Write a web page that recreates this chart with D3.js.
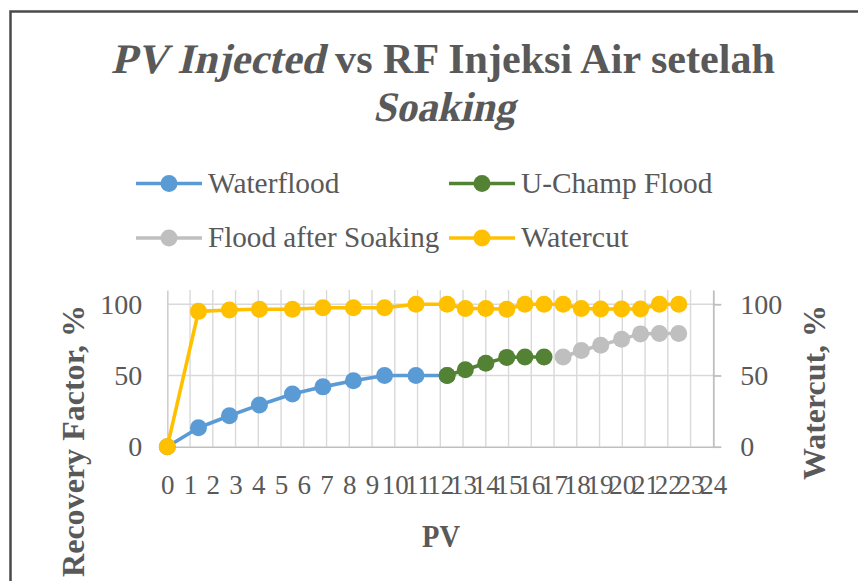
<!DOCTYPE html>
<html><head><meta charset="utf-8">
<script src="https://cdn.jsdelivr.net/npm/d3@7/dist/d3.min.js"></script>
<style>
html,body{margin:0;padding:0;background:#fff;}
svg{display:block;}
text{font-family:"Liberation Serif","Times New Roman",serif;fill:#595959;}
</style></head><body>
<svg id="chart" width="858" height="581"></svg>
<script>
// ---- data ----
const pvInjected = [0, 1.37, 2.73, 4.05, 5.5, 6.84, 8.18, 9.55, 10.93, 12.3, 13.1, 14.0, 14.92, 15.72, 16.56, 17.4, 18.2, 19.05, 19.97, 20.8, 21.63, 22.48];
const waterflood = [0, 13.3, 21.7, 29.3, 37, 42, 46.3, 50, 50, 50];          // PV index 0-9
const uChampFlood = [50, 54, 58.6, 62.7, 63, 63];                           // PV index 9-14
const floodAfterSoaking = [63, 67.5, 71.2, 75.5, 79.2, 79.5, 79.5];         // PV index 15-21
const watercut = [0, 95, 96, 96.5, 96.5, 97.5, 97.5, 97.5, 100, 100, 97, 97, 96.5, 100, 100, 100, 97, 96.7, 96.7, 96.7, 100, 100];
const xTickValues = d3.range(0, 25);
const yTickValues = [0, 50, 100];
const seriesNames = ["Waterflood", "U-Champ Flood", "Flood after Soaking", "Watercut"];
const seriesColors = ["#5B9BD5", "#548235", "#BFBFBF", "#FFC000"];

const series = [
  {name: seriesNames[0], color: seriesColors[0], xs: pvInjected.slice(0, 10), ys: waterflood},
  {name: seriesNames[1], color: seriesColors[1], xs: pvInjected.slice(9, 15), ys: uChampFlood},
  {name: seriesNames[2], color: seriesColors[2], xs: pvInjected.slice(15, 22), ys: floodAfterSoaking},
  {name: seriesNames[3], color: seriesColors[3], xs: pvInjected, ys: watercut}
];

const svg = d3.select("#chart");

function fit(sel, target) {
  const w = sel.node().getBBox().width;
  let s = target / w;
  if (!isFinite(s)) s = 1;
  return Math.max(0.75, Math.min(1.25, s));
}

// border
svg.append("path").attr("d", "M10.5,581 V11.5 H858").attr("fill", "none")
  .attr("stroke", "#4a4a4a").attr("stroke-width", 2.5);

// scales
const x = d3.scaleLinear().domain([0, 24]).range([167.3, 713.3]);
const yL = d3.scaleLinear().domain([0, 110]).range([446.7, 290]);
const yR = d3.scaleLinear().domain([0, 110]).range([446.7, 290]);

// gridlines
const grid = svg.append("g");
grid.selectAll("line.v").data(xTickValues.slice(1, 24)).join("line")
  .attr("x1", d => x(d)).attr("x2", d => x(d)).attr("y1", yL(110)).attr("y2", yL(0))
  .attr("stroke", "#D9D9D9").attr("stroke-width", 1.4);
grid.selectAll("line.h").data(yTickValues.slice(1)).join("line")
  .attr("x1", x(0)).attr("x2", x(24)).attr("y1", d => yL(d)).attr("y2", d => yL(d))
  .attr("stroke", "#D9D9D9").attr("stroke-width", 1.4);

// axes
const xAxis = svg.append("g").attr("transform", `translate(0,${yL(0)})`)
  .call(d3.axisBottom(x).tickValues(xTickValues).tickSize(0).tickPadding(28).tickFormat(d3.format("d")));
xAxis.select(".domain").attr("stroke", "#BFBFBF").attr("stroke-width", 1.6);
xAxis.selectAll("text").attr("font-size", 27).attr("fill", "#595959")
  .attr("font-family", "Liberation Serif");

const yAxisL = svg.append("g").attr("transform", `translate(${x(0)},0)`)
  .call(d3.axisLeft(yL).tickValues(yTickValues).tickSize(0).tickPadding(25).tickSizeOuter(0));
yAxisL.select(".domain").attr("stroke", "#CFCFCF").attr("stroke-width", 1.6);
yAxisL.selectAll("text").attr("font-size", 28).attr("fill", "#595959")
  .attr("font-family", "Liberation Serif");

const yAxisR = svg.append("g").attr("transform", `translate(${x(24)},0)`)
  .call(d3.axisRight(yR).tickValues(yTickValues).tickSize(8).tickPadding(19).tickSizeOuter(0));
yAxisR.select(".domain").attr("stroke", "#BFBFBF").attr("stroke-width", 1.8);
yAxisR.selectAll(".tick line").attr("stroke", "#BFBFBF").attr("stroke-width", 1.8);
yAxisR.selectAll("text").attr("font-size", 28).attr("fill", "#595959")
  .attr("font-family", "Liberation Serif");

// series
const line = d3.line().x(d => x(d[0])).y(d => yL(d[1]));
series.forEach(s => {
  const pts = s.xs.map((v, i) => [v, s.ys[i]]);
  const g = svg.append("g");
  g.append("path").datum(pts).attr("d", line).attr("fill", "none")
    .attr("stroke", s.color).attr("stroke-width", 3.6).attr("stroke-linejoin", "round");
  g.selectAll("circle").data(pts).join("circle")
    .attr("cx", d => x(d[0])).attr("cy", d => yL(d[1])).attr("r", 8.5)
    .attr("fill", s.color);
});

// legend
const legendItems = [
  {i: 0, lx: 136, ly: 183.5, tw: 132},
  {i: 1, lx: 449, ly: 183.5, tw: 192},
  {i: 2, lx: 136, ly: 238, tw: 231.5},
  {i: 3, lx: 449, ly: 238, tw: 107.5}
];
legendItems.forEach(it => {
  const g = svg.append("g").attr("transform", `translate(${it.lx},${it.ly})`);
  g.append("line").attr("x1", 0).attr("x2", 66).attr("y1", 0).attr("y2", 0)
    .attr("stroke", seriesColors[it.i]).attr("stroke-width", 3.6);
  g.append("circle").attr("cx", 33).attr("cy", 0).attr("r", 8.5).attr("fill", seriesColors[it.i]);
  const t = g.append("text").attr("font-size", 29).text(seriesNames[it.i]);
  const s = fit(t, it.tw);
  t.attr("transform", `translate(72,9) scale(${s},1)`);
});

// title (italic parts drawn as slanted serif bold)
const skew = -13;
const tg1 = svg.append("g");
const ti = tg1.append("text").attr("font-size", 42).attr("font-weight", "bold")
  .attr("transform", `skewX(${skew})`).text("PV Injected");
const wi = ti.node().getBBox().width;
const tr = tg1.append("text").attr("font-size", 42).attr("font-weight", "bold")
  .attr("x", wi + 10.5).text("vs RF Injeksi Air setelah");
const wTot = wi + 10.5 + tr.node().getBBox().width;
const s1 = Math.max(0.8, Math.min(1.2, 664 / wTot));
tg1.attr("transform", `translate(${440 - wTot * s1 / 2 + 3},73) scale(${s1},1)`);

const tg2 = svg.append("g");
const ts = tg2.append("text").attr("font-size", 42).attr("font-weight", "bold")
  .attr("transform", `skewX(${skew})`).text("Soaking");
const ws = ts.node().getBBox().width;
const s2 = Math.max(0.8, Math.min(1.2, 142 / ws));
tg2.attr("transform", `translate(${441 - ws * s2 / 2 + 3},121) scale(${s2},1)`);

// axis titles
const xt = svg.append("text").attr("text-anchor", "middle").attr("font-size", 32)
  .attr("font-weight", "bold").text("PV");
xt.attr("transform", `translate(441,547) scale(${fit(xt, 38)},1)`);

const ylt = svg.append("text").attr("text-anchor", "middle").attr("font-size", 32)
  .attr("font-weight", "bold").text("Recovery Factor, %");
ylt.attr("transform", `translate(84,441) rotate(-90) scale(${fit(ylt, 272)},1)`);

const yrt = svg.append("text").attr("text-anchor", "middle").attr("font-size", 32)
  .attr("font-weight", "bold").text("Watercut, %");
yrt.attr("transform", `translate(825,392.5) rotate(-90) scale(${fit(yrt, 175)},1)`);
</script>
</body></html>
